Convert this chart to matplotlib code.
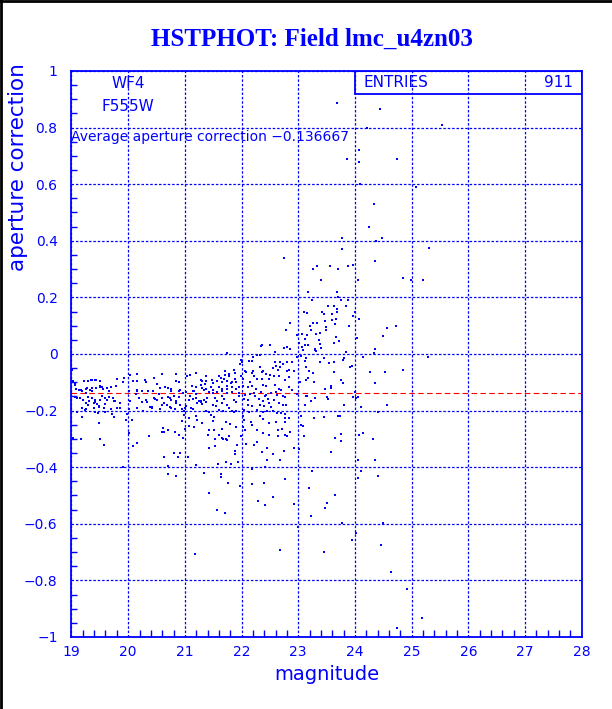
import numpy as np
import matplotlib.pyplot as plt
from matplotlib.lines import Line2D
from matplotlib.patches import Rectangle
from matplotlib.ticker import MultipleLocator, FixedLocator, FuncFormatter

BLUE = (0, 0, 1)

# faint tail, upper right (mag, aperture correction)
tail_mag = [24.44, 25.53, 24.21, 24.07, 23.86, 24.07, 24.75, 24.09, 25.08, 24.33, 24.25, 23.77, 24.37, 24.47,
            23.77, 25.30, 23.97, 23.87, 24.36, 24.05, 24.84, 24.99, 25.20, 23.76, 23.87, 23.84, 24.00, 23.97,
            24.07, 23.90, 24.56, 24.72, 24.50, 24.03, 24.36, 24.34, 23.84, 24.14, 25.29, 23.79, 23.68]
tail_cor = [0.865, 0.81, 0.80, 0.72, 0.69, 0.68, 0.69, 0.60, 0.59, 0.53, 0.45, 0.41, 0.40, 0.41,
            0.37, 0.375, 0.315, 0.31, 0.33, 0.26, 0.27, 0.26, 0.26, 0.19, 0.19, 0.17, 0.15, 0.135,
            0.125, 0.10, 0.09, 0.10, 0.065, 0.057, 0.017, 0.003, 0.006, -0.01, -0.01, -0.02, 0.887]

# rising plume 22.3-24 mag above zero
plume_mag = [22.74, 23.26, 23.33, 23.56, 23.70, 23.40, 23.17, 23.68, 23.70, 23.24, 23.75, 23.63, 23.52, 23.42,
             23.68, 23.68, 23.10, 23.16, 23.46, 23.60, 23.33, 23.67, 23.47, 23.59, 22.86, 23.21, 23.26, 23.64,
             23.49, 23.49, 23.22, 22.79, 23.39, 23.06, 22.97, 23.15, 23.31, 23.12, 23.67, 23.37, 23.39, 23.72,
             23.63, 23.01, 23.18, 23.12, 22.34, 22.50, 22.74, 22.81, 23.07, 22.86, 23.29, 22.59, 23.08, 23.30,
             23.32, 23.41]
plume_cor = [0.34, 0.30, 0.31, 0.31, 0.30, 0.26, 0.22, 0.22, 0.20, 0.19, 0.19, 0.17, 0.17, 0.15,
             0.16, 0.15, 0.15, 0.145, 0.14, 0.14, 0.11, 0.125, 0.115, 0.12, 0.11, 0.10, 0.11, 0.105,
             0.095, 0.083, 0.085, 0.083, 0.073, 0.072, 0.067, 0.067, 0.07, 0.052, 0.059, 0.05, 0.035, 0.047,
             0.04, 0.038, 0.032, 0.032, 0.028, 0.03, 0.022, 0.023, 0.025, 0.018, 0.019, 0.007, 0.014, 0.014,
             0.011, 0.02]

# 22.5-24 mag below zero
mid_mag = [22.59, 22.67, 22.73, 22.80, 22.89, 22.97, 23.04, 23.13, 23.12, 23.39, 23.46, 23.54, 23.63, 23.80,
           23.92, 22.56, 22.60, 22.67, 22.65, 22.80, 22.84, 22.92, 23.14, 23.19, 23.26, 23.63, 22.57, 22.66,
           22.83, 22.76, 23.03, 23.13, 23.17, 23.28, 23.58, 23.57, 23.48, 23.76, 23.79, 22.59, 22.66, 22.70,
           22.83, 22.89, 22.98, 22.60, 22.63, 22.73, 22.76, 23.13, 23.15, 23.29, 23.23, 23.51, 23.53, 23.80,
           22.57, 22.66, 22.73, 22.79, 23.12, 22.63, 22.69, 22.77, 22.56, 22.83, 22.77, 23.05, 23.71, 23.74,
           23.27, 23.45, 22.60, 22.77, 23.05, 23.08, 22.64, 22.71, 22.86, 23.76, 23.10, 22.64, 22.77, 22.81,
           23.64]
mid_cor = [-0.027, -0.027, -0.035, -0.027, -0.027, -0.009, -0.007, -0.015, -0.025, -0.03, -0.015, -0.033, -0.03, -0.015,
           -0.045, -0.048, -0.042, -0.047, -0.057, -0.06, -0.055, -0.06, -0.045, -0.06, -0.066, -0.063, -0.078, -0.079,
           -0.082, -0.092, -0.098, -0.092, -0.086, -0.098, -0.113, -0.12, -0.124, -0.092, -0.104, -0.11, -0.125, -0.127,
           -0.118, -0.127, -0.142, -0.133, -0.145, -0.148, -0.153, -0.148, -0.15, -0.157, -0.166, -0.153, -0.16, -0.18,
           -0.163, -0.172, -0.18, -0.18, -0.18, -0.21, -0.21, -0.212, -0.20, -0.227, -0.227, -0.22, -0.22, -0.22,
           -0.227, -0.222, -0.24, -0.24, -0.25, -0.254, -0.268, -0.266, -0.274, -0.283, -0.29, -0.289, -0.286, -0.289,
           -0.298]

# main band 20.8-22.55 mag
band_mag = [21.75, 22.36, 22.28, 22.32, 22.21, 22.14, 21.99, 22.0, 21.98, 22.18, 22.32, 22.37, 22.36, 22.21,
            22.19, 22.06, 22.08, 22.43, 22.51, 22.49, 22.36, 22.22, 22.27, 22.15, 21.99, 22.02, 21.86, 21.88,
            21.78, 21.78, 21.71, 21.71, 21.61, 21.64, 21.56, 21.65, 21.69, 21.75, 21.81, 21.84, 21.89, 21.91,
            21.48, 21.49, 21.37, 21.36, 21.30, 21.09, 21.04, 20.84, 20.89, 21.12, 21.19, 21.28, 21.31, 21.37,
            21.46, 21.49, 21.61, 21.66, 21.74, 21.75, 21.83, 21.9, 21.95, 22.02, 22.11, 22.19, 22.25, 22.37,
            22.43, 20.89, 20.96, 21.02, 21.14, 21.19, 21.43, 21.49, 21.56, 21.65, 21.75, 21.83, 21.96, 22.06,
            22.15, 22.22, 22.34, 22.43, 22.52, 20.81, 20.9, 21.09, 21.15, 21.19, 21.25, 21.28, 21.31, 21.34,
            21.37, 21.54, 21.56, 21.66, 21.69, 21.66, 21.87, 21.9, 21.96, 22.05, 22.12, 22.24, 22.3, 22.37,
            22.42, 22.46, 22.49, 20.84, 20.91, 21.02, 21.11, 21.49, 21.55, 21.75, 21.78, 22.11, 22.19, 22.32,
            22.4, 22.52, 20.83, 20.99, 21.37, 21.42, 21.61, 21.68, 21.83, 21.86, 21.9, 22.05, 22.14, 22.28,
            22.37, 22.45, 20.99, 21.08, 21.19, 21.22, 21.46, 21.52, 22.02, 22.04, 22.32, 22.37, 20.95, 21.08,
            21.31, 21.5, 21.72, 21.79, 22.16, 22.19, 22.49, 21.01, 21.16, 21.43, 21.52, 21.65, 21.9, 22.02,
            22.06, 22.28, 22.37, 22.49, 20.83, 20.9, 21.4, 21.61, 21.77, 21.99, 20.96, 21.66, 21.72, 20.84,
            21.19, 21.28, 21.37]
band_cor = [0.004, 0.03, -0.005, -0.005, -0.012, -0.024, -0.02, -0.028, -0.035, -0.026, -0.046, -0.059, -0.065, -0.059,
            -0.067, -0.059, -0.065, -0.071, -0.073, -0.088, -0.088, -0.079, -0.09, -0.1, -0.079, -0.09, -0.055, -0.068,
            -0.071, -0.079, -0.061, -0.076, -0.079, -0.085, -0.096, -0.1, -0.09, -0.096, -0.102, -0.1, -0.088, -0.1,
            -0.093, -0.102, -0.096, -0.106, -0.094, -0.076, -0.079, -0.096, -0.1, -0.114, -0.118, -0.108, -0.12, -0.124,
            -0.118, -0.126, -0.116, -0.124, -0.114, -0.124, -0.118, -0.124, -0.116, -0.112, -0.118, -0.114, -0.124, -0.111,
            -0.114, -0.132, -0.138, -0.135, -0.132, -0.14, -0.135, -0.138, -0.135, -0.132, -0.138, -0.135, -0.138, -0.144,
            -0.14, -0.138, -0.135, -0.144, -0.138, -0.149, -0.152, -0.149, -0.159, -0.155, -0.165, -0.171, -0.176, -0.161,
            -0.171, -0.155, -0.165, -0.149, -0.159, -0.173, -0.161, -0.171, -0.149, -0.159, -0.161, -0.149, -0.159, -0.165,
            -0.149, -0.159, -0.173, -0.173, -0.179, -0.185, -0.191, -0.179, -0.185, -0.179, -0.191, -0.179, -0.185, -0.182,
            -0.185, -0.187, -0.194, -0.2, -0.2, -0.206, -0.199, -0.202, -0.2, -0.206, -0.2, -0.199, -0.206, -0.199,
            -0.206, -0.202, -0.214, -0.226, -0.218, -0.232, -0.214, -0.222, -0.218, -0.232, -0.218, -0.229, -0.238, -0.253,
            -0.244, -0.238, -0.241, -0.249, -0.241, -0.251, -0.244, -0.265, -0.258, -0.269, -0.267, -0.265, -0.258, -0.258,
            -0.267, -0.267, -0.279, -0.288, -0.276, -0.288, -0.285, -0.288, -0.291, -0.291, -0.296, -0.296, -0.299, -0.071,
            -0.067, -0.091, -0.079]

# bright end 19-20.8 mag
bright_mag = [19.03, 19.07, 19.01, 19.08, 19.13, 19.22, 19.3, 19.37, 19.42, 19.27, 19.32, 19.37, 19.43, 19.51,
              19.54, 19.63, 19.8, 19.19, 19.25, 19.07, 19.15, 19.3, 19.36, 19.41, 19.54, 19.6, 19.66, 19.73,
              19.76, 19.25, 19.29, 19.39, 19.45, 19.48, 19.57, 19.6, 19.8, 19.86, 19.19, 19.23, 19.1, 19.19,
              19.42, 19.47, 19.6, 19.75, 19.72, 19.48, 19.98, 19.96, 20.04, 20.09, 20.16, 20.13, 20.19, 20.25,
              20.3, 20.32, 20.44, 20.45, 20.48, 20.6, 20.25, 20.33, 20.54, 20.59, 20.65, 20.7, 20.75, 20.7,
              20.76, 20.39, 20.42, 20.6, 20.73, 20.76, 20.06, 20.16, 20.27, 19.92, 20.15,
              19.07, 19.22, 19.34, 19.44, 19.51, 19.69, 19.79, 19.16, 19.26, 19.36, 19.56, 19.66, 20.01, 20.16,
              20.35, 20.57, 20.75, 20.92, 21.16, 21.34, 19.1, 19.21, 19.31, 19.42, 19.5, 19.63, 19.75, 19.86,
              20.04, 20.25, 20.31, 20.51, 20.63, 20.74, 20.84, 21.07, 21.22, 21.28, 21.39, 19.25, 19.39, 19.48,
              19.69, 20.01, 20.16, 20.42, 20.57, 20.68, 20.95, 21.01, 21.15, 19.5, 19.9, 20.45, 20.5]
bright_cor = [-0.095, -0.107, -0.056, -0.124, -0.127, -0.095, -0.095, -0.092, -0.092, -0.121, -0.127, -0.121, -0.119, -0.116,
              -0.117, -0.119, -0.088, -0.131, -0.139, -0.151, -0.157, -0.153, -0.157, -0.163, -0.147, -0.157, -0.151, -0.157,
              -0.166, -0.174, -0.18, -0.172, -0.178, -0.186, -0.192, -0.178, -0.192, -0.19, -0.19, -0.198, -0.204, -0.221,
              -0.204, -0.21, -0.204, -0.221, -0.213, -0.245, -0.213, -0.233, -0.074, -0.095, -0.131, -0.143, -0.157, -0.131,
              -0.092, -0.1, -0.131, -0.157, -0.16, -0.072, -0.168, -0.171, -0.143, -0.157, -0.116, -0.121, -0.131, -0.151,
              -0.163, -0.186, -0.192, -0.18, -0.186, -0.192, -0.233, -0.095, -0.2, -0.085, -0.071,
              -0.108, -0.096, -0.093, -0.093, -0.114, -0.116, -0.112, -0.126, -0.124, -0.132, -0.124, -0.132, -0.132, -0.126,
              -0.132, -0.12, -0.124, -0.129, -0.132, -0.126, -0.155, -0.161, -0.167, -0.171, -0.164, -0.161, -0.167, -0.173,
              -0.167, -0.171, -0.161, -0.164, -0.173, -0.155, -0.167, -0.161, -0.173, -0.167, -0.155, -0.196, -0.191, -0.185,
              -0.194, -0.196, -0.191, -0.187, -0.196, -0.182, -0.196, -0.191, -0.194, -0.095, -0.1, -0.085, -0.105]

# scattered outliers below the band
low_mag = [19.16, 19.51, 19.58, 19.03, 19.91, 20.09, 20.16, 20.37, 20.59, 20.64, 20.61, 20.71, 20.8, 20.63,
           20.71, 20.71, 20.01, 20.92, 20.88, 20.85, 21.43, 21.53, 21.53, 21.68, 21.74, 21.92, 21.89, 21.89,
           21.06, 21.19, 21.59, 21.73, 21.81, 21.94, 21.34, 21.64, 21.63, 21.76, 21.98, 21.43, 21.57, 21.71,
           21.17, 22.07, 22.22, 22.27, 22.44, 22.36, 22.55, 22.74, 22.92, 22.44, 22.68, 22.42, 22.19, 22.39,
           22.76, 22.18, 22.56, 22.29, 22.41, 22.92, 22.68, 23.01, 23.25, 23.19, 23.22, 22.99, 23.57, 23.75,
           23.65, 23.5, 23.48, 23.46, 23.78]
low_cor = [-0.302, -0.302, -0.322, -0.297, -0.401, -0.326, -0.314, -0.289, -0.274, -0.276, -0.261, -0.268, -0.349, -0.363,
           -0.395, -0.424, -0.278, -0.349, -0.364, -0.431, -0.331, -0.326, -0.302, -0.3, -0.304, -0.32, -0.343, -0.353,
           -0.365, -0.393, -0.388, -0.383, -0.39, -0.38, -0.42, -0.424, -0.435, -0.456, -0.465, -0.491, -0.551, -0.562,
           -0.707, -0.317, -0.323, -0.311, -0.331, -0.348, -0.353, -0.344, -0.331, -0.376, -0.376, -0.4, -0.408, -0.456,
           -0.441, -0.459, -0.504, -0.518, -0.532, -0.53, -0.694, -0.335, -0.412, -0.472, -0.571, -0.61, -0.346, -0.309,
           -0.5, -0.526, -0.544, -0.701, -0.599]

# faint tail, lower right
faint_mag = [23.95, 24.26, 24.53, 24.85, 24.36, 24.0, 23.96, 24.06, 24.01, 24.11, 24.57, 24.4, 24.08, 24.15,
             24.31, 24.05, 24.36, 24.1, 24.05, 24.4, 24.5, 24.01, 23.94, 24.46, 24.63, 24.91, 25.19, 24.75]
faint_cor = [-0.044, -0.062, -0.062, -0.055, -0.104, -0.135, -0.152, -0.151, -0.155, -0.187, -0.179, -0.205, -0.285, -0.281,
             -0.299, -0.373, -0.373, -0.412, -0.44, -0.431, -0.596, -0.631, -0.659, -0.676, -0.772, -0.832, -0.932, -0.969]

avg_cor = -0.136667
n_entries = 911

mag = np.concatenate([tail_mag, plume_mag, mid_mag, band_mag, bright_mag, low_mag, faint_mag])
cor = np.concatenate([tail_cor, plume_cor, mid_cor, band_cor, bright_cor, low_cor, faint_cor])

fig = plt.figure(figsize=(6.12, 7.09), dpi=100)
ax = fig.add_axes([0.1168, 0.1016, 0.8337, 0.7983])

ax.plot(mag, cor, 's', color=BLUE, ms=1.7, mew=0, zorder=3)
ax.axhline(avg_cor, color='red', lw=0.8, ls=(0, (5, 3)), zorder=2)

ax.set_xlim(19, 28)
ax.set_ylim(-1, 1)
ax.xaxis.set_major_locator(MultipleLocator(1))
ax.yaxis.set_major_locator(FixedLocator(np.round(np.arange(-1, 1.01, 0.2), 1)))
ax.xaxis.set_minor_locator(MultipleLocator(0.2))
ax.yaxis.set_minor_locator(MultipleLocator(0.05))

def yfmt(v, pos):
    if abs(v) < 1e-9:
        return '0'
    if abs(abs(v) - 1) < 1e-9:
        return '\u22121' if v < 0 else '1'
    return ('%.1f' % v).replace('-', '\u2212')

ax.yaxis.set_major_formatter(FuncFormatter(yfmt))
ax.tick_params(which='major', length=0, labelsize=10, labelcolor=BLUE)
ax.tick_params(axis='y', which='major', pad=10)
ax.tick_params(axis='x', which='major', pad=6)
ax.tick_params(which='minor', direction='in', color=BLUE, width=1)
ax.tick_params(axis='x', which='minor', length=5)
ax.tick_params(axis='y', which='minor', length=4)
ax.grid(True, which='major', color=BLUE, lw=0.9, ls=(0, (2, 1.5)))
for sp in ax.spines.values():
    sp.set_color(BLUE)
    sp.set_linewidth(1.3)

ax.set_xlabel('magnitude', fontsize=14, color=BLUE, labelpad=4)
ax.set_ylabel('aperture correction', fontsize=15.5, color=BLUE, labelpad=8)
ax.yaxis.set_label_coords(-0.085, 0.83)

ax.text(20.0, 0.954, 'WF4', ha='center', va='center', fontsize=11, color=BLUE)
ax.text(20.0, 0.876, 'F555W', ha='center', va='center', fontsize=11, color=BLUE)
ax.text(19.0, 0.768, 'Average aperture correction \u22120.136667', ha='left', va='center',
        fontsize=10, color=BLUE)

# stats box
ax.add_patch(Rectangle((24.0, 0.92), 4.0, 0.08, fill=False, ec=BLUE, lw=1.3, zorder=4))
ax.text(24.15, 0.958, 'ENTRIES', ha='left', va='center', fontsize=11, color=BLUE)
ax.text(27.85, 0.958, str(n_entries), ha='right', va='center', fontsize=11, color=BLUE)

fig.text(0.51, 0.944, 'HSTPHOT: Field lmc_u4zn03', ha='center', va='center',
         fontsize=18, fontweight='bold', family='Liberation Serif', color=BLUE)

# window border
fig.add_artist(Line2D([0.002, 0.002], [0, 1], color='black', lw=2.0, transform=fig.transFigure))
fig.add_artist(Line2D([0, 1], [0.998, 0.998], color='black', lw=2.0, transform=fig.transFigure))

fig.savefig('out.png', dpi=100)
